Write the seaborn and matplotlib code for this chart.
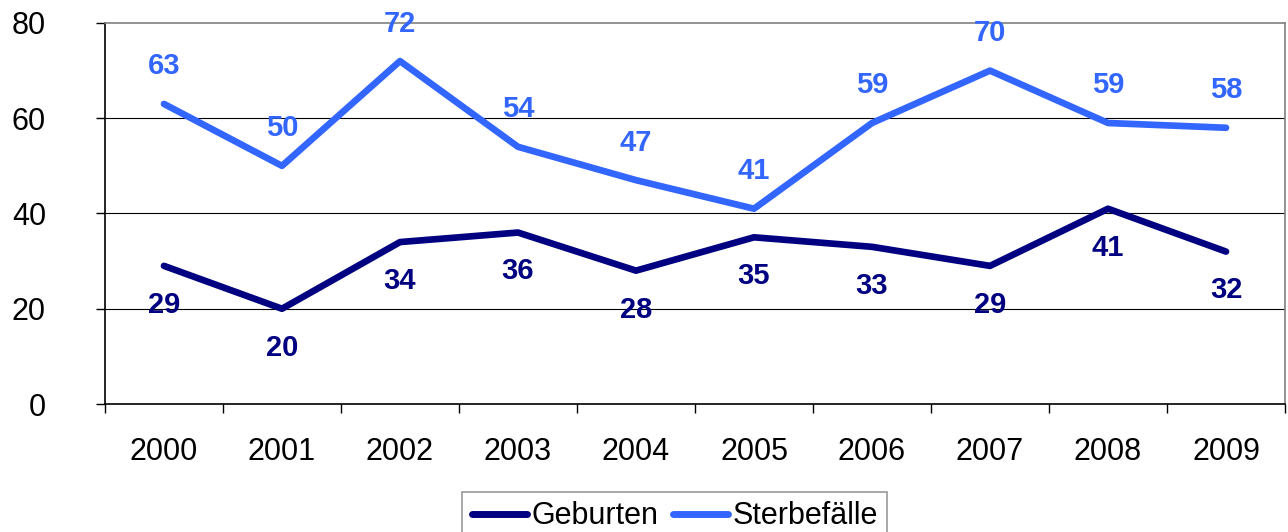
import numpy as np
import pandas as pd
import matplotlib
matplotlib.use("Agg")
import matplotlib.pyplot as plt
import seaborn as sns

years = ["2000", "2001", "2002", "2003", "2004", "2005", "2006", "2007", "2008", "2009"]
geburten = [29, 20, 34, 36, 28, 35, 33, 29, 41, 32]
sterbefaelle = [63, 50, 72, 54, 47, 41, 59, 70, 59, 58]

NAVY = "#000080"
BLUE = "#3366FF"

sns.set_style("white")
plt.rcParams["font.family"] = ["Liberation Sans", "DejaVu Sans"]
plt.rcParams["text.color"] = "black"
plt.rcParams["xtick.color"] = "black"
plt.rcParams["ytick.color"] = "black"

df = pd.DataFrame({
    "pos": list(range(len(years))) * 2,
    "value": geburten + sterbefaelle,
    "series": ["Geburten"] * len(years) + ["Sterbefälle"] * len(years),
})

fig = plt.figure(figsize=(12.88, 5.32), dpi=100)
ax = fig.add_axes([0.0815, 0.2406, 0.9162, 0.7162])

sns.lineplot(data=df, x="pos", y="value", hue="series",
             palette={"Geburten": NAVY, "Sterbefälle": BLUE},
             linewidth=4.8, ax=ax, legend=False, solid_capstyle="round")

# data labels
for i, v in enumerate(sterbefaelle):
    ax.annotate(str(v), (i, v), xytext=(0, 27), textcoords="offset points",
                ha="center", va="center", fontsize=21, fontweight="bold", color=BLUE)
for i, v in enumerate(geburten):
    ax.annotate(str(v), (i, v), xytext=(0, -28), textcoords="offset points",
                ha="center", va="center", fontsize=21, fontweight="bold", color=NAVY)

ax.set_xlim(-0.5, len(years) - 0.5)
ax.set_ylim(0, 80)
ax.set_yticks([0, 20, 40, 60, 80])
ax.set_xticks(range(len(years)))
ax.set_xticklabels(years)
ax.set_xticks(np.arange(-0.5, len(years), 1.0), minor=True)
ax.tick_params(axis="x", which="major", bottom=True, length=0, pad=24, labelsize=22,
               labelcolor="black")
ax.tick_params(axis="x", which="minor", bottom=True, length=6.5, width=1,
               color="black", direction="out")
ax.tick_params(axis="y", left=True, length=6.5, width=1, color="black",
               direction="out", pad=36, labelsize=22, labelcolor="black")
ax.set_xlabel("")
ax.set_ylabel("")

for y in [20, 40, 60]:
    ax.axhline(y, color="black", lw=0.8, zorder=0)

ax.spines["left"].set_color("black")
ax.spines["bottom"].set_color("black")
ax.spines["top"].set_color("#808080")
ax.spines["right"].set_color("#808080")
for s in ax.spines.values():
    s.set_linewidth(1.2)
    s.set_visible(True)

handles = [plt.Line2D([], [], color=NAVY, lw=5, solid_capstyle="round"),
           plt.Line2D([], [], color=BLUE, lw=5, solid_capstyle="round")]
leg = fig.legend(handles, ["Geburten", "Sterbefälle"], loc="lower center",
                 bbox_to_anchor=(0.524, -0.045), ncol=2, fontsize=22, frameon=True,
                 fancybox=False, edgecolor="#808080", handlelength=1.8,
                 handletextpad=0.15, columnspacing=0.5, borderpad=0.3,
                 labelcolor="black")
leg.get_frame().set_linewidth(1.2)

fig.savefig("out.png", dpi=100)
